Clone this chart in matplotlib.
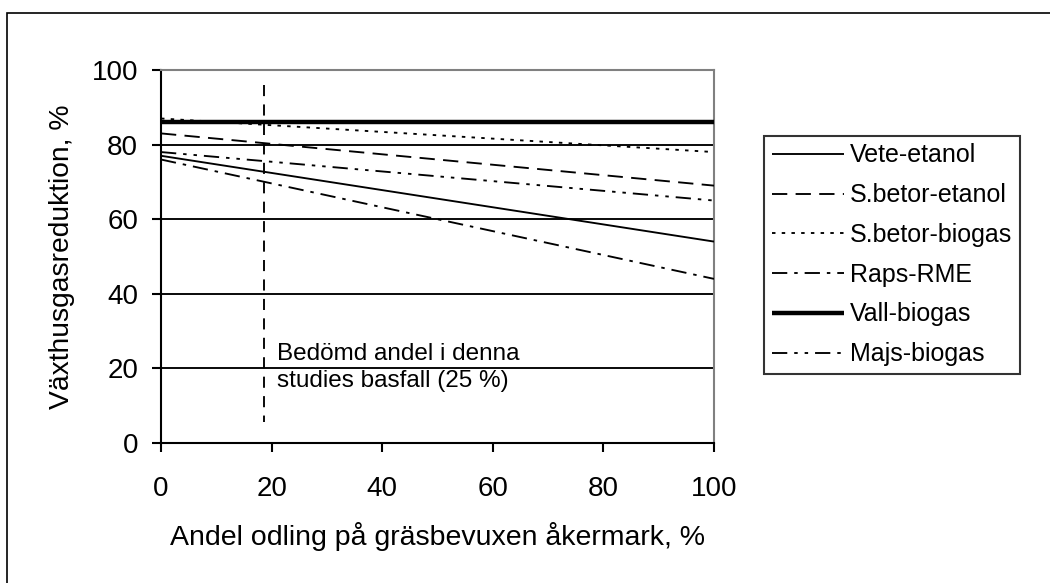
import numpy as np
import matplotlib
matplotlib.use("Agg")
import matplotlib.pyplot as plt
from matplotlib.patches import Rectangle

plt.rcParams['font.family'] = ['Liberation Sans', 'DejaVu Sans']
plt.rcParams['lines.scale_dashes'] = False

# andel odling på gräsbevuxen åkermark (start, slut)
x = [0, 100]
series = ["Vete-etanol", "S.betor-etanol", "S.betor-biogas", "Raps-RME", "Vall-biogas", "Majs-biogas"]
vete_etanol = [77, 54]
sbetor_etanol = [83, 69]
sbetor_biogas = [87, 78]
raps_rme = [76, 44]
vall_biogas = [86, 86]
majs_biogas = [78, 65]
values = [vete_etanol, sbetor_etanol, sbetor_biogas, raps_rme, vall_biogas, majs_biogas]

xtick_vals = [0, 20, 40, 60, 80, 100]
ytick_vals = [0, 20, 40, 60, 80, 100]

styles = [
    dict(lw=1.35, ls="-"),
    dict(lw=1.35, ls=(0, (11, 6))),
    dict(lw=1.35, ls=(0, (2.5, 4.5))),
    dict(lw=1.35, ls=(0, (11, 5, 2.5, 5))),
    dict(lw=3.2, ls="-"),
    dict(lw=1.35, ls=(0, (11, 5, 2.5, 5, 2.5, 5))),
]

fig = plt.figure(figsize=(10.5, 5.83), dpi=100)
fig.patches.append(Rectangle((7 / 1050, -0.1), 1.2, (583 - 13) / 583 + 0.1,
                             transform=fig.transFigure, fill=False, ec="black", lw=1.2))
ax = fig.add_axes([161 / 1050, 140 / 583, 553 / 1050, 373 / 583])

for yv in ytick_vals[1:-1]:
    ax.axhline(yv, color="black", lw=1.35, zorder=1)

for name, vals, st in zip(series, values, styles):
    ax.plot(x, vals, color="black", label=name, zorder=3, solid_capstyle="butt",
            dash_capstyle="butt", **st)

ax.plot([18.6, 18.6], [96, 5.5], color="black", lw=1.35, ls=(0, (8, 6)), zorder=4)
ax.text(21, 26.8, "Bedömd andel i denna\nstudies basfall (25 %)", fontsize=17.5,
        va="top", ha="left", linespacing=1.3)

ax.set_xlim(0, 100)
ax.set_ylim(0, 100)
ax.set_xticks(xtick_vals)
ax.set_yticks(ytick_vals)
ax.tick_params(axis="both", direction="out", length=6.5, width=1.5, labelsize=20)
ax.tick_params(axis="x", pad=17.5)
ax.tick_params(axis="y", pad=10)

for s in ["top", "right"]:
    ax.spines[s].set_color("#808080")
    ax.spines[s].set_linewidth(1.5)
for s in ["left", "bottom"]:
    ax.spines[s].set_linewidth(1.5)

ax.set_xlabel("Andel odling på gräsbevuxen åkermark, %", fontsize=20.5, labelpad=14)
ax.set_ylabel("Växthusgasreduktion, %", fontsize=20.3, labelpad=12)

leg = ax.legend(loc="upper left", bbox_to_anchor=(764 / 1050, (583 - 136) / 583),
                bbox_transform=fig.transFigure, fontsize=18, frameon=True, fancybox=False,
                handlelength=2.9, handletextpad=0.25, labelspacing=0.63, borderpad=0.3,
                borderaxespad=0)
leg.get_frame().set_edgecolor("black")
leg.get_frame().set_linewidth(1.5)

fig.savefig("out.png", dpi=100)
